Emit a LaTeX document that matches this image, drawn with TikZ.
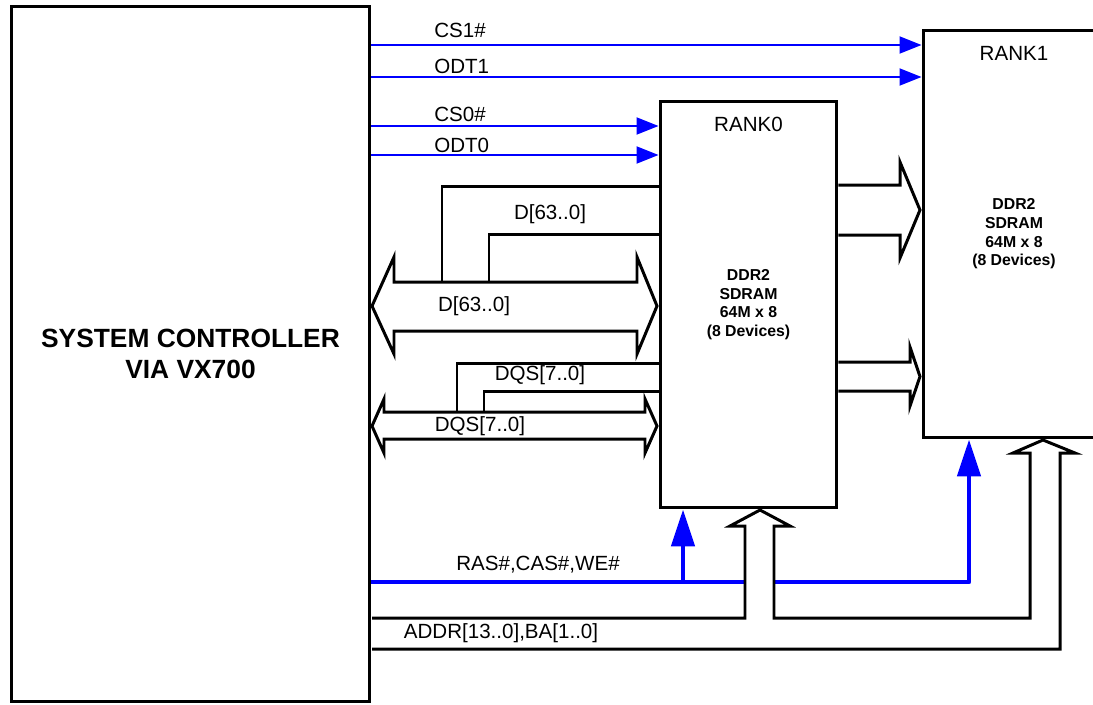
\documentclass[tikz,border=0pt]{standalone}
\usepackage{fontspec}
\setmainfont{Liberation Sans}
\usetikzlibrary{arrows.meta,positioning,calc}

\begin{document}
\begin{tikzpicture}[
  x=0.02cm, y=-0.02cm,
  ctrlbox/.style={draw, line width=1.7pt, minimum width=7.18cm, minimum height=13.92cm, align=center, font=\fontsize{15}{17.6}\selectfont\bfseries},
  rankbox/.style={draw, line width=1.7pt, minimum width=3.54cm, minimum height=8.14cm, align=center, font=\fontsize{9}{10.6}\selectfont\bfseries},
  lbl/.style={font=\fontsize{11.7}{14}\selectfont, inner sep=0pt},
  sig/.style={blue, line width=1.1pt, -{Triangle[length=0.44cm, width=0.34cm]}},
  cmd/.style={blue, line width=2.8pt, line join=round, -{Triangle[length=0.74cm, width=0.46cm]}},
  bus/.style={draw, line width=1.7pt, line join=miter},
  busfill/.style={bus, fill=white}
]
\path[use as bounding box, clip] (0,0) rectangle (1093,704);

% --- controller and the two ranks ---
\node[ctrlbox] (ctrl) at (190.5,354) {SYSTEM CONTROLLER\\VIA VX700};
\node[rankbox] (rank0) at (748.5,304.5) {DDR2\\SDRAM\\64M x 8\\(8 Devices)};
\node[rankbox, minimum width=3.64cm, minimum height=8.16cm] (rank1) at (1014,234) {DDR2\\SDRAM\\64M x 8\\(8 Devices)};
\node[lbl, below=0.35cm of rank0.north] (r0name) {RANK0};
\node[lbl, below=0.35cm of rank1.north] (r1name) {RANK1};

% --- chip select / ODT ---
\draw[sig] (ctrl.east |- 0,45) -- (rank1.west |- 0,45);
\draw[sig] (ctrl.east |- 0,77) -- (rank1.west |- 0,77);
\draw[sig] (ctrl.east |- 0,126) -- (rank0.west |- 0,126);
\draw[sig] (ctrl.east |- 0,155) -- (rank0.west |- 0,155);
\node[lbl, anchor=west] (lcs1) at (434,30) {CS1\#};
\node[lbl, anchor=west] (lodt1) at (434,66) {ODT1};
\node[lbl, anchor=west] (lcs0) at (434,114) {CS0\#};
\node[lbl, anchor=west] (lodt0) at (434,145) {ODT0};

% --- data bus D[63..0] ---
\draw[bus] (442,282) |- (rank0.west |- 0,186);
\draw[bus] (489,282) |- (rank0.west |- 0,234);
\draw[bus] (372,306) -- (394,257) -- (394,282) -- (637,282) -- (637,257) -- (657,306)
  -- (637,354) -- (637,331) -- (394,331) -- (394,354) -- cycle;
\node[lbl] (ldup) at (550,214) {D[63..0]};
\node[lbl] (ldlow) at (474,306) {D[63..0]};

% --- strobes DQS[7..0] ---
\draw[bus] (457,412) |- (rank0.west |- 0,363);
\draw[bus] (484,412) |- (rank0.west |- 0,391);
\draw[bus] (372,426) -- (384,399) -- (384,412) -- (645,412) -- (645,399) -- (657,426)
  -- (645,453) -- (645,439) -- (384,439) -- (384,453) -- cycle;
\node[lbl] (ldqsup) at (540,375) {DQS[7..0]};
\node[lbl] (ldqslow) at (480,426) {DQS[7..0]};

% --- rank0 to rank1 ---
\draw[bus] (rank0.east |- 0,185) -- (900,185) -- (900,162) -- (920,210) -- (900,258)
  -- (900,235) -- (rank0.east |- 0,235);
\draw[bus] (rank0.east |- 0,362) -- (910,362) -- (910,347) -- (920,376.5) -- (910,406)
  -- (910,391) -- (rank0.east |- 0,391);

% --- RAS#,CAS#,WE# ---
\draw[cmd] (ctrl.east |- 0,582) -- (969,582) -- (rank1.south -| 969,0);
\draw[cmd] (683,582) -- (rank0.south -| 683,0);
\node[lbl] (lras) at (538,565) {RAS\#,CAS\#,WE\#};

% --- address bus ---
\draw[busfill] (372,618) -- (745,618) -- (745,526) -- (730,526) -- (760,510) -- (790,526)
  -- (774,526) -- (774,618) -- (1030,618) -- (1030,453) -- (1013,453) -- (1043,440)
  -- (1075,453) -- (1060,453) -- (1060,649) -- (372,649);
\node[lbl] (laddr) at (501,633) {ADDR[13..0],BA[1..0]};

\end{tikzpicture}
\end{document}
